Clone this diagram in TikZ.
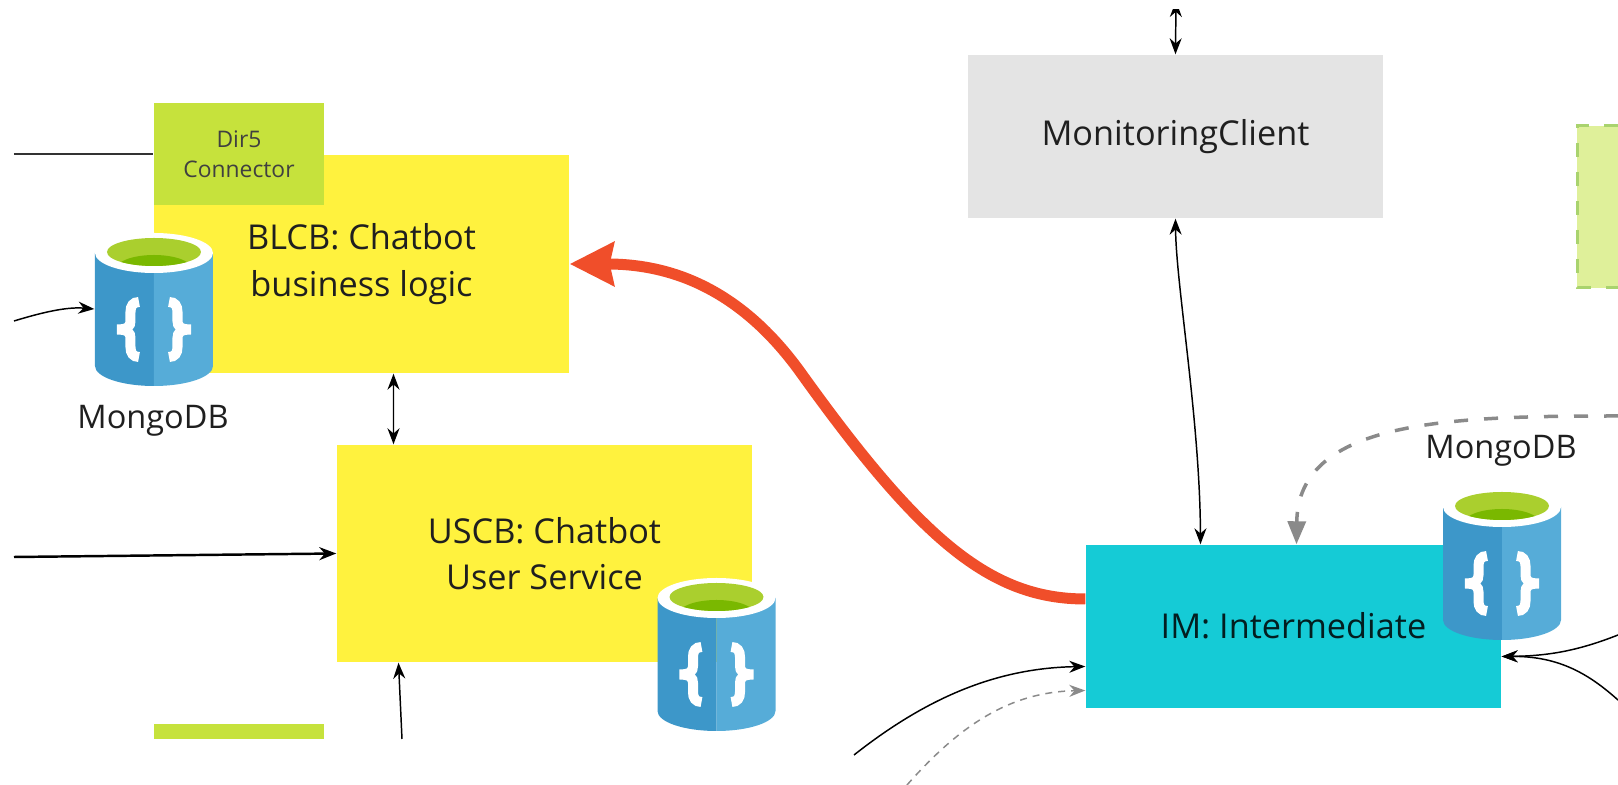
\documentclass[tikz,border=0pt]{standalone}
\usepackage{fontspec}
\setmainfont{Open Sans}
\usetikzlibrary{arrows.meta}
\definecolor{boxyellow}{HTML}{FFF23E}
\definecolor{boxlime}{HTML}{C6E23C}
\definecolor{boxteal}{HTML}{15CBD6}
\definecolor{boxgray}{HTML}{E4E4E4}
\definecolor{boxpale}{HTML}{DFF09A}
\definecolor{palegreen}{HTML}{A9D36E}
\definecolor{arrowred}{HTML}{F04E2A}
\definecolor{dashgray}{HTML}{8A8A8A}
\definecolor{candark}{HTML}{3D97C9}
\definecolor{canlight}{HTML}{56ACD8}
\definecolor{canlime}{HTML}{AACF2E}
\definecolor{cangreen}{HTML}{7AB800}
\tikzset{
	block/.style={minimum width=4.15cm, inner sep=0pt, align=center, text=black!88, font=\fontsize{9.75pt}{13.2pt}\selectfont},
	smallblock/.style={minimum width=1.7cm, inner sep=0pt, fill=boxlime, align=center, text=black!75, font=\fontsize{6.5pt}{8.5pt}\selectfont},
	dbname/.style={inner sep=0pt, text=black!88, font=\fontsize{9.25pt}{11pt}\selectfont},
	canbox/.style={minimum width=1.18cm, minimum height=1.52cm, inner sep=0pt},
	canbrace/.style={line width=0.1cm, white, line cap=butt},
	thinarrow/.style={line width=0.42pt, black, -{Stealth[length=0.16cm, width=0.12cm]}},
	bothways/.style={line width=0.42pt, black, {Stealth[length=0.16cm, width=0.12cm]}-{Stealth[length=0.16cm, width=0.12cm]}},
}
\def\mongocan(#1)(#2){
	\node[canbox] (#1) at (#2) {};
	\begin{scope}[shift={(#2)}]
		\fill[candark] (-0.59, 0.56) -- (-0.59, -0.57) arc (180:270:0.59 and 0.2) -- (0, 0.56) -- cycle;
		\fill[canlight] (0.59, 0.56) -- (0.59, -0.57) arc (0:-90:0.59 and 0.2) -- (0, 0.56) -- cycle;
		\fill[white] (0, 0.56) ellipse (0.59 and 0.2);
		\begin{scope}
			\clip (0, 0.57) ellipse (0.47 and 0.14);
			\fill[canlime] (-0.5, 0.3) rectangle (0.5, 0.8);
			\fill[cangreen] (0, 0.4) ellipse (0.38 and 0.14);
		\end{scope}
		\foreach \s in {1,-1}
			\draw[canbrace, xscale=\s] (0.15, 0.07) .. controls (0.21, 0.07) and (0.235, 0.03) .. (0.235, -0.03) -- (0.235, -0.12) .. controls (0.235, -0.17) and (0.26, -0.205) .. (0.37, -0.205) .. controls (0.26, -0.205) and (0.235, -0.24) .. (0.235, -0.29) -- (0.235, -0.38) .. controls (0.235, -0.44) and (0.21, -0.48) .. (0.15, -0.48);
	\end{scope}
}

\begin{document}
\begin{tikzpicture}
		%%%%% START %%%%%
		\useasboundingbox (0, 0) rectangle (16.18, 7.85);
		
		% boxes
		\node[block, fill=boxyellow, minimum height=2.18cm] (blcb) at (3.615, 5.21) {BLCB: Chatbot\\business logic};
		\node[smallblock, minimum height=1.02cm] (dir) at (2.39, 6.31) {Dir5\\Connector};
		\node[block, fill=boxyellow, minimum height=2.17cm] (uscb) at (5.445, 2.315) {USCB: Chatbot\\User Service};
		\node[smallblock, minimum height=0.15cm] (limebar) at (2.39, 0.535) {};
		\node[block, fill=boxgray, minimum height=1.63cm] (monitor) at (11.755, 6.485) {\raisebox{-0.02cm}{MonitoringClient}};
		\node[block, fill=boxteal, text=black!85!boxteal, minimum height=1.63cm] (im) at (12.935, 1.585) {\raisebox{0.02cm}{IM: Intermediate}};
		
		% pale box on the right edge
		\fill[boxpale] (15.77, 6.59) rectangle (16.18, 4.97);
		\draw[line width=0.03cm, palegreen, dash pattern=on 0.14cm off 0.15cm] (16.18, 6.59) -- (15.77, 6.59) -- (15.77, 4.97) -- (16.18, 4.97);
		
		% databases
		\mongocan(blcan)(1.54, 4.76)
		\mongocan(uscan)(7.165, 1.31)
		\mongocan(imcan)(15.02, 2.22)
		\node[dbname] (blname) at (1.53, 3.64) {MongoDB};
		\node[dbname] (imname) at (15.01, 3.34) {MongoDB};
		
		% free ends
		\coordinate (dirend) at (0.14, 6.31);
		\coordinate (blcanend) at (0.14, 4.64);
		\coordinate (usleft) at (0.14, 2.28);
		\coordinate (usbelow) at (4.02, 0.46);
		\coordinate (montop) at (11.76, 7.84);
		\coordinate (grayright) at (16.18, 3.69);
		\coordinate (rightup) at (16.18, 1.5);
		\coordinate (rightdown) at (16.18, 0.85);
		\coordinate (leftsolid) at (8.54, 0.3);
		\coordinate (leftdash) at (9.07, 0);
		
		% connectors
		\draw[line width=0.42pt, black!80] (dirend) -- (dir.west);
		\draw[thinarrow] (blcanend) .. controls (0.5, 4.75) and (0.7, 4.78) .. (blcan.west);
		\draw[bothways] ([xshift=0.32cm]blcb.south) -- ([xshift=-1.51cm]uscb.north);
		\draw[line width=0.7pt, black, -{Stealth[length=0.17cm, width=0.13cm]}] (usleft) -- (uscb.west);
		\draw[thinarrow] (usbelow) -- ([xshift=-1.46cm]uscb.south);
		\draw[bothways] (montop) -- (monitor.north);
		\fill[white] (11.5, 7.76) rectangle (12, 7.85);
		\draw[bothways] (monitor.south) .. controls (11.76, 5) and (12, 3.65) .. ([xshift=-0.93cm]im.north);
		\draw[line width=0.11cm, arrowred, -{Stealth[length=0.44cm, width=0.43cm, inset=0.04cm]}] ([yshift=0.275cm]im.west) .. controls (9.9, 1.86) and (9.2, 2.46) .. (8.01, 4.12) .. controls (7.4, 4.97) and (6.7, 5.21) .. (blcb.east);
		\draw[line width=0.035cm, dashgray, dash pattern=on 0.14cm off 0.16cm, -{Stealth[length=0.23cm, width=0.18cm, inset=0pt]}] (grayright) .. controls (14.5, 3.69) and (12.98, 3.65) .. ([xshift=0.03cm]im.north);
		\draw[thinarrow] (rightup) .. controls (15.8, 1.35) and (15.5, 1.29) .. ([yshift=-0.3cm]im.east);
		\draw[thinarrow] (rightdown) .. controls (15.9, 1.1) and (15.6, 1.29) .. ([yshift=-0.3cm]im.east);
		\draw[thinarrow] (leftsolid) .. controls (9.3, 0.9) and (10, 1.17) .. ([yshift=-0.4cm]im.west);
		\draw[line width=0.42pt, dashgray, dash pattern=on 0.07cm off 0.06cm, -{Stealth[length=0.16cm, width=0.12cm]}] (leftdash) .. controls (9.6, 0.6) and (10.1, 0.93) .. ([yshift=-0.64cm]im.west);
		
		%%%%% END %%%%%
	\end{tikzpicture}
\end{document}
